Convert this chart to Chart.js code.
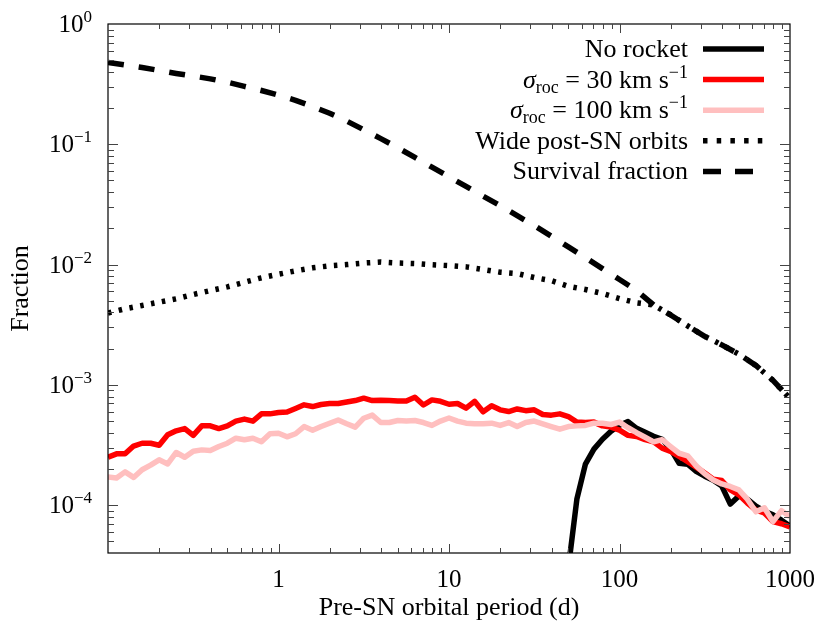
<!DOCTYPE html>
<html>
<head>
<meta charset="utf-8">
<script src="https://cdn.jsdelivr.net/npm/chart.js@4.4.0/dist/chart.umd.min.js"></script>
<style>
  html, body { margin: 0; padding: 0; background: #fff; }
  canvas { display: block; }
</style>
</head>
<body>
<canvas id="chart" width="830" height="630"></canvas>
<script>
// pre-SN orbital period bins (d), 20 per decade
const periodFine = [
  0.1, 0.1122, 0.1259, 0.1413, 0.1585, 0.1778, 0.1995, 0.2239, 0.2512, 0.2818,
  0.3162, 0.3548, 0.3981, 0.4467, 0.5012, 0.5623, 0.6310, 0.7079, 0.7943, 0.8913,
  1, 1.122, 1.259, 1.413, 1.585, 1.778, 1.995, 2.239, 2.512, 2.818,
  3.162, 3.548, 3.981, 4.467, 5.012, 5.623, 6.310, 7.079, 7.943, 8.913,
  10, 11.22, 12.59, 14.13, 15.85, 17.78, 19.95, 22.39, 25.12, 28.18,
  31.62, 35.48, 39.81, 44.67, 50.12, 56.23, 63.10, 70.79, 79.43, 89.13,
  100, 112.2, 125.9, 141.3, 158.5, 177.8, 199.5, 223.9, 251.2, 281.8,
  316.2, 354.8, 398.1, 446.7, 501.2, 562.3, 631.0, 707.9, 794.3, 891.3,
  1000
];

// smooth curves, 10 per decade
const periodCoarse = [
  0.1, 0.1259, 0.1585, 0.1995, 0.2512, 0.3162, 0.3981, 0.5012, 0.6310, 0.7943,
  1, 1.259, 1.585, 1.995, 2.512, 3.162, 3.981, 5.012, 6.310, 7.943,
  10, 12.59, 15.85, 19.95, 25.12, 31.62, 39.81, 50.12, 63.10, 79.43,
  100, 125.9, 158.5, 199.5, 251.2, 316.2, 398.1, 501.2, 631.0, 794.3,
  1000
];

const noRocket = [
  null, null, null, null, null, null, null, null, null, null,
  null, null, null, null, null, null, null, null, null, null,
  null, null, null, null, null, null, null, null, null, null,
  null, null, null, null, null, null, null, null, null, null,
  null, null, null, null, null, null, null, null, null, null,
  null, null, null, null, 3.0e-5, 1.12e-4, 2.19e-4, 2.92e-4, 3.53e-4, 4.11e-4,
  4.61e-4, 4.95e-4, 4.35e-4, 4.03e-4, 3.74e-4, 3.53e-4, 2.92e-4, 2.23e-4, 2.19e-4, 1.91e-4,
  1.74e-4, 1.61e-4, 1.44e-4, 1.02e-4, 1.19e-4, 1.12e-4, 9.8e-5, 8.9e-5, 8.3e-5, 7.5e-5,
  6.7e-5
];

const rocket30 = [
  2.5e-4, 2.67e-4, 2.67e-4, 3.1e-4, 3.27e-4, 3.27e-4, 3.15e-4, 3.84e-4, 4.15e-4, 4.33e-4,
  3.8e-4, 4.56e-4, 4.56e-4, 4.33e-4, 4.56e-4, 4.99e-4, 5.19e-4, 4.99e-4, 5.74e-4, 5.74e-4,
  5.89e-4, 5.95e-4, 6.36e-4, 6.82e-4, 6.6e-4, 6.87e-4, 7.0e-4, 7.0e-4, 7.2e-4, 7.4e-4,
  7.75e-4, 7.4e-4, 7.45e-4, 7.4e-4, 7.35e-4, 7.35e-4, 7.9e-4, 6.8e-4, 7.5e-4, 7.3e-4,
  6.9e-4, 7.0e-4, 6.4e-4, 7.3e-4, 5.97e-4, 6.7e-4, 6.2e-4, 6.0e-4, 6.3e-4, 6.1e-4,
  6.2e-4, 5.67e-4, 5.6e-4, 5.74e-4, 5.45e-4, 4.9e-4, 4.86e-4, 4.9e-4, 4.56e-4, 4.45e-4,
  4.2e-4, 3.8e-4, 3.72e-4, 3.5e-4, 3.36e-4, 2.98e-4, 2.8e-4, 2.54e-4, 2.3e-4, 2.07e-4,
  1.85e-4, 1.64e-4, 1.6e-4, 1.34e-4, 1.22e-4, 1.04e-4, 9.1e-5, 8.6e-5, 7.3e-5, 7.0e-5,
  6.6e-5
];

const rocket100 = [
  1.71e-4, 1.68e-4, 1.89e-4, 1.70e-4, 1.97e-4, 2.15e-4, 2.38e-4, 2.20e-4, 2.74e-4, 2.50e-4,
  2.81e-4, 2.88e-4, 2.85e-4, 3.07e-4, 3.27e-4, 3.60e-4, 3.50e-4, 3.60e-4, 3.36e-4, 3.92e-4,
  3.96e-4, 3.70e-4, 3.92e-4, 4.50e-4, 4.20e-4, 4.50e-4, 4.80e-4, 5.10e-4, 4.75e-4, 4.45e-4,
  5.28e-4, 5.60e-4, 4.86e-4, 4.86e-4, 5.05e-4, 5.00e-4, 5.05e-4, 4.86e-4, 4.60e-4, 5.00e-4,
  5.30e-4, 5.00e-4, 4.80e-4, 4.74e-4, 4.74e-4, 4.80e-4, 4.60e-4, 4.86e-4, 4.50e-4, 4.86e-4,
  5.00e-4, 4.74e-4, 4.50e-4, 4.28e-4, 4.50e-4, 4.56e-4, 4.60e-4, 4.80e-4, 4.80e-4, 4.68e-4,
  4.90e-4, 4.40e-4, 4.00e-4, 3.67e-4, 3.36e-4, 3.50e-4, 3.07e-4, 2.70e-4, 2.57e-4, 2.12e-4,
  1.82e-4, 1.62e-4, 1.50e-4, 1.43e-4, 1.34e-4, 1.12e-4, 8.8e-5, 9.5e-5, 7.3e-5, 9.0e-5,
  8.0e-5
];

const wideOrbits = [
  3.96e-3, 4.29e-3, 4.57e-3, 4.87e-3, 5.19e-3, 5.64e-3, 6.08e-3, 6.53e-3, 7.13e-3, 7.76e-3,
  8.31e-3, 8.87e-3, 9.39e-3, 9.76e-3, 1.0e-2, 1.03e-2, 1.05e-2, 1.03e-2, 1.02e-2, 9.95e-3,
  9.8e-3, 9.57e-3, 9.1e-3, 8.64e-3, 8.42e-3, 7.8e-3, 7.36e-3, 6.6e-3, 6.2e-3, 5.75e-3,
  5.22e-3, 4.81e-3, 4.62e-3, 3.81e-3, 3.09e-3, 2.53e-3, 2.15e-3, 1.80e-3, 1.45e-3, 1.09e-3,
  7.7e-4
];

const survival = [
  0.479, 0.457, 0.435, 0.411, 0.388, 0.369, 0.350, 0.328, 0.303, 0.280,
  0.256, 0.232, 0.206, 0.181, 0.156, 0.132, 0.1115, 0.0935, 0.0777, 0.0646,
  0.0537, 0.0446, 0.0370, 0.0309, 0.0255, 0.0211, 0.01724, 0.01402, 0.01143, 0.00926,
  0.00751, 0.00608, 4.62e-3, 3.81e-3, 3.09e-3, 2.53e-3, 2.15e-3, 1.80e-3, 1.45e-3, 1.09e-3,
  7.7e-4
];

const xTickValues = [1, 10, 100, 1000];
const xTickLabels = ['1', '10', '100', '1000'];
const yTickValues = [1, 0.1, 0.01, 0.001, 0.0001];
const yTickExponents = ['0', '\u22121', '\u22122', '\u22123', '\u22124'];

const FONT = '"Liberation Serif", "Times New Roman", serif';

function pairs(xs, ys) {
  return xs.map((x, i) => ({ x: x, y: ys[i] }));
}

// draws a row of text pieces (sub/superscripts) at one baseline
function richText(ctx, parts, x, y, align) {
  ctx.textAlign = 'left';
  ctx.textBaseline = 'alphabetic';
  let w = 0;
  parts.forEach(p => {
    ctx.font = (p.it ? 'italic ' : '') + p.size + 'px ' + FONT;
    w += ctx.measureText(p.t).width;
  });
  let cx = align === 'right' ? x - w : (align === 'center' ? x - w / 2 : x);
  parts.forEach(p => {
    ctx.font = (p.it ? 'italic ' : '') + p.size + 'px ' + FONT;
    ctx.fillText(p.t, cx, y + (p.dy || 0));
    cx += ctx.measureText(p.t).width;
  });
}

const legendText = [
  [{ t: 'No rocket', size: 26 }],
  [{ t: '\u03c3', size: 26, it: true }, { t: 'roc', size: 18, dy: 5 }, { t: ' = 30 km s', size: 26 }, { t: '\u22121', size: 18, dy: -10 }],
  [{ t: '\u03c3', size: 26, it: true }, { t: 'roc', size: 18, dy: 5 }, { t: ' = 100 km s', size: 26 }, { t: '\u22121', size: 18, dy: -10 }],
  [{ t: 'Wide post-SN orbits', size: 26 }],
  [{ t: 'Survival fraction', size: 26 }]
];
const legendDash = [[], [], [], [4.5, 9.2], [18, 14]];

const framePlugin = {
  id: 'frame',
  afterDatasetsDraw(chart) {
    const ctx = chart.ctx;
    const a = chart.chartArea;
    const xs = chart.scales.x, ys = chart.scales.y;
    ctx.save();

    // frame
    ctx.strokeStyle = '#000';
    ctx.lineWidth = 1.2;
    ctx.strokeRect(a.left, a.top, a.right - a.left, a.bottom - a.top);

    // inside ticks on all four sides
    ctx.strokeStyle = '#444';
    ctx.lineWidth = 1;
    ctx.beginPath();
    for (let d = -1; d <= 3; d++) {
      for (let m = 1; m <= 9; m++) {
        const v = m * Math.pow(10, d);
        if (v <= 0.1 || v >= 1000) continue;
        const px = Math.round(xs.getPixelForValue(v)) + 0.5;
        const len = m === 1 ? 9 : 5;
        ctx.moveTo(px, a.bottom); ctx.lineTo(px, a.bottom - len);
        ctx.moveTo(px, a.top); ctx.lineTo(px, a.top + len);
      }
    }
    for (let d = -5; d <= 0; d++) {
      for (let m = 1; m <= 9; m++) {
        const v = m * Math.pow(10, d);
        if (v <= 4e-5 || v >= 1) continue;
        const py = Math.round(ys.getPixelForValue(v)) + 0.5;
        const len = m === 1 ? 10 : 6;
        ctx.moveTo(a.left, py); ctx.lineTo(a.left + len, py);
        ctx.moveTo(a.right, py); ctx.lineTo(a.right - len, py);
      }
    }
    ctx.stroke();

    // tick labels
    ctx.fillStyle = '#000';
    xTickValues.forEach((v, i) => {
      richText(ctx, [{ t: xTickLabels[i], size: 25 }], xs.getPixelForValue(v), 587, 'center');
    });
    yTickValues.forEach((v, i) => {
      const py = ys.getPixelForValue(v);
      richText(ctx, [{ t: '10', size: 25 }, { t: yTickExponents[i], size: 17, dy: -10 }], 92, py + 8, 'right');
    });

    // axis titles
    richText(ctx, [{ t: 'Pre-SN orbital period (d)', size: 26 }], (a.left + a.right) / 2, 615, 'center');
    ctx.save();
    ctx.translate(28, (a.top + a.bottom) / 2);
    ctx.rotate(-Math.PI / 2);
    richText(ctx, [{ t: 'Fraction', size: 26 }], 0, 0, 'center');
    ctx.restore();

    // legend: text right-aligned, line sample on the right
    const sets = chart.data.datasets;
    legendText.forEach((parts, i) => {
      const yc = 49 + i * 30.6;
      richText(ctx, parts, 688, yc + 8, 'right');
      const ds = sets[i];
      ctx.strokeStyle = ds.borderColor;
      ctx.lineWidth = ds.borderWidth;
      ctx.lineCap = 'butt';
      ctx.setLineDash(legendDash[i]);
      ctx.beginPath();
      ctx.moveTo(703, yc);
      ctx.lineTo(764, yc);
      ctx.stroke();
      ctx.setLineDash([]);
    });

    ctx.restore();
  }
};

const ctx = document.getElementById('chart').getContext('2d');
new Chart(ctx, {
  type: 'line',
  data: {
    datasets: [
      { label: 'No rocket', data: pairs(periodFine, noRocket), borderColor: '#000000', borderWidth: 5.5, order: 3 },
      { label: 'sigma_roc = 30 km/s', data: pairs(periodFine, rocket30), borderColor: '#ff0000', borderWidth: 5.5, order: 2 },
      { label: 'sigma_roc = 100 km/s', data: pairs(periodFine, rocket100), borderColor: '#ffbfbf', borderWidth: 5.5, order: 1 },
      { label: 'Wide post-SN orbits', data: pairs(periodCoarse, wideOrbits), borderColor: '#000000', borderWidth: 5.5, borderDash: [3.5, 7.5], order: 0 },
      { label: 'Survival fraction', data: pairs(periodCoarse, survival), borderColor: '#000000', borderWidth: 5.5, borderDash: [16, 15], order: 0 }
    ]
  },
  options: {
    responsive: false,
    animation: false,
    layout: { padding: { left: 108, right: 40, top: 24, bottom: 77 } },
    elements: {
      point: { radius: 0 },
      line: { tension: 0, borderJoinStyle: 'round', borderCapStyle: 'butt' }
    },
    scales: {
      x: { type: 'logarithmic', min: 0.1, max: 1000, display: false },
      y: { type: 'logarithmic', min: 4e-5, max: 1, display: false }
    },
    plugins: {
      legend: { display: false },
      tooltip: { enabled: false }
    }
  },
  plugins: [framePlugin]
});
</script>
</body>
</html>
